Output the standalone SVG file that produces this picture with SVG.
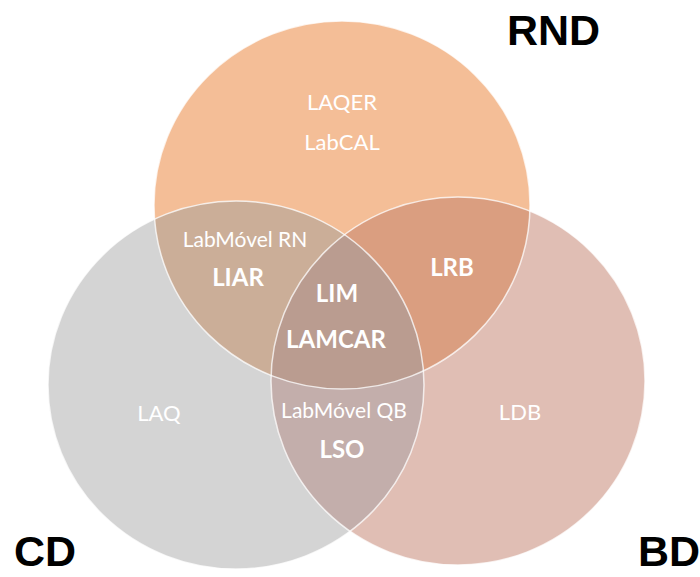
<svg xmlns="http://www.w3.org/2000/svg" width="700" height="577" viewBox="0 0 700 577">
<style>
.lbl{font-family:Lato,"Open Sans","Liberation Sans",sans-serif;fill:#ffffff;text-anchor:middle}
.b{font-weight:bold}
.set{font-family:"Liberation Sans",Arial,sans-serif;font-weight:bold;fill:#000000;font-size:43px}
.edge{fill:none;stroke:#ffffff;stroke-opacity:0.75;stroke-width:1.5}
</style>
<defs>
<ellipse id="eO" cx="342" cy="205" rx="188" ry="184"/>
<ellipse id="eG" cx="236" cy="385" rx="188" ry="184"/>
<ellipse id="eP" cx="458" cy="381" rx="187" ry="184"/>
<clipPath id="cO"><use href="#eO"/></clipPath>
<clipPath id="cG"><use href="#eG"/></clipPath>
<clipPath id="cP"><use href="#eP"/></clipPath>
</defs>
<rect width="700" height="577" fill="#ffffff"/>
<g id="RND-set"><use href="#eO" fill="#F4BE97"/></g>
<g id="CD-set"><use href="#eG" fill="#D4D4D4"/></g>
<g id="BD-set"><use href="#eP" fill="#E0BEB4"/></g>
<g id="overlaps">
<use href="#eG" fill="#CBAE98" clip-path="url(#cO)"/>
<use href="#eP" fill="#DA9E80" clip-path="url(#cO)"/>
<use href="#eP" fill="#C3AEAB" clip-path="url(#cG)"/>
<g clip-path="url(#cP)"><use href="#eG" fill="#BA9C90" clip-path="url(#cO)"/></g>
</g>
<g id="edges">
<use href="#eO" class="edge"/>
<use href="#eG" class="edge"/>
<use href="#eP" class="edge"/>
</g>
<g id="labels">
<text class="lbl" x="342" y="110" font-size="22">LAQER</text>
<text class="lbl" x="342" y="150" font-size="22">LabCAL</text>
<text class="lbl" x="245" y="247" font-size="21">LabMóvel RN</text>
<text class="lbl b" x="238" y="286" font-size="24">LIAR</text>
<text class="lbl b" x="337" y="302" font-size="24">LIM</text>
<text class="lbl b" x="336" y="348" font-size="24">LAMCAR</text>
<text class="lbl b" x="452" y="276" font-size="24">LRB</text>
<text class="lbl" x="344" y="418" font-size="21">LabMóvel QB</text>
<text class="lbl b" x="342" y="458" font-size="24">LSO</text>
<text class="lbl" x="159" y="421" font-size="22">LAQ</text>
<text class="lbl" x="520" y="420" font-size="22">LDB</text>
</g>
<g id="set-titles">
<text class="set" x="507" y="45">RND</text>
<text class="set" x="14" y="566">CD</text>
<text class="set" x="638" y="566">BD</text>
</g>
</svg>
